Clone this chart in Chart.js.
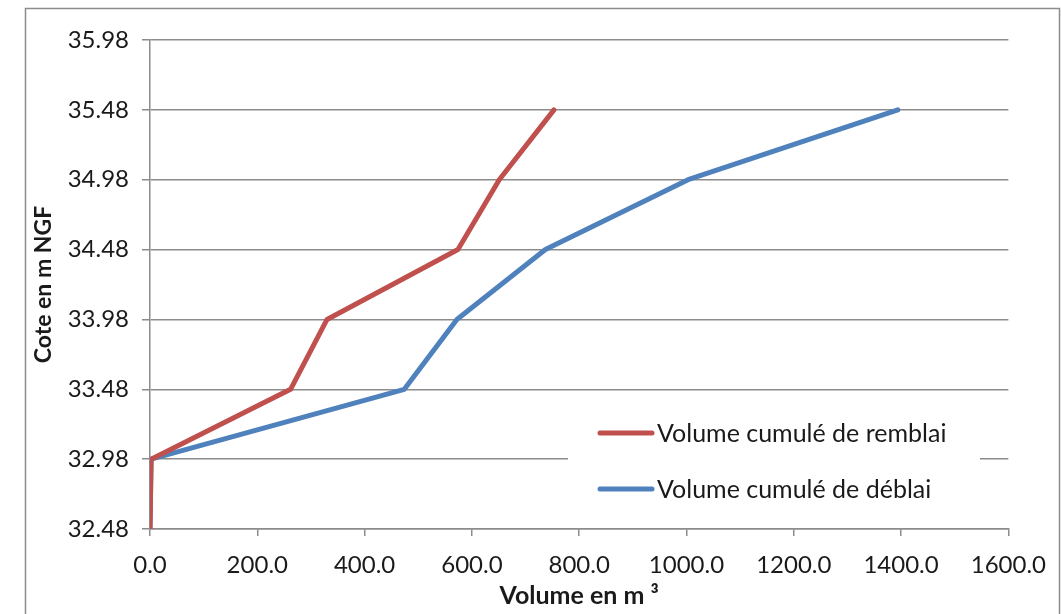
<!DOCTYPE html>
<html>
<head>
<meta charset="utf-8">
<script src="https://cdn.jsdelivr.net/npm/chart.js@4/dist/chart.umd.min.js"></script>
<style>
  html, body { margin: 0; padding: 0; background: #ffffff; }
  #wrap { width: 1061px; height: 614px; position: relative; }
</style>
</head>
<body>
<div id="wrap"><canvas id="c" width="1061" height="614"></canvas></div>
<script>
// Elevation levels (m NGF)
const cotes = [32.48, 32.98, 33.48, 33.98, 34.48, 34.98, 35.48];
// Cumulative fill volume (m³) at each level
const remblai = [0, 2, 262, 330, 574, 651, 753];
// Cumulative cut volume (m³) at each level
const deblai = [0, 2, 474, 572, 737, 1003, 1394];

const seriesNames = ['Volume cumulé de remblai', 'Volume cumulé de déblai'];
const seriesColors = ['#C0504D', '#4F81BD'];

const yTicks = [32.48, 32.98, 33.48, 33.98, 34.48, 34.98, 35.48, 35.98];
const xTicks = [0, 200, 400, 600, 800, 1000, 1200, 1400, 1600];

const FONT = 'Lato, "Open Sans", sans-serif';
const GRID = '#8c8c8c';

const toPoints = vals => vals.map((v, i) => ({ x: v, y: cotes[i] }));

// Outer frame around the chart
const framePlugin = {
  id: 'frame',
  beforeDraw(chart) {
    const ctx = chart.ctx;
    ctx.save();
    ctx.fillStyle = '#ffffff';
    ctx.fillRect(0, 0, chart.width, chart.height);
    ctx.strokeStyle = '#8c8c8c';
    ctx.lineWidth = 1.5;
    ctx.beginPath();
    ctx.moveTo(25.5, chart.height + 2);
    ctx.lineTo(25.5, 8.5);
    ctx.lineTo(1059.5, 8.5);
    ctx.lineTo(1059.5, chart.height + 2);
    ctx.stroke();
    ctx.restore();
  }
};

// Legend box drawn inside the plot area
const insideLegend = {
  id: 'insideLegend',
  afterDatasetsDraw(chart) {
    const ctx = chart.ctx;
    ctx.save();
    ctx.fillStyle = '#ffffff';
    ctx.fillRect(568, 402, 412, 104);
    ctx.font = '25px ' + FONT;
    ctx.textBaseline = 'middle';
    ctx.textAlign = 'left';
    const rows = [433, 489];
    chart.data.datasets.forEach((ds, i) => {
      const y = rows[i];
      ctx.strokeStyle = ds.borderColor;
      ctx.lineWidth = 5;
      ctx.lineCap = 'round';
      ctx.beginPath();
      ctx.moveTo(600, y);
      ctx.lineTo(652, y);
      ctx.stroke();
      ctx.fillStyle = '#1a1a1a';
      ctx.fillText(ds.label, 657, y + 1);
    });
    ctx.restore();
  }
};

new Chart(document.getElementById('c'), {
  type: 'line',
  data: {
    datasets: [
      { label: seriesNames[0], data: toPoints(remblai), borderColor: seriesColors[0] },
      { label: seriesNames[1], data: toPoints(deblai), borderColor: seriesColors[1] }
    ]
  },
  options: {
    responsive: false,
    animation: false,
    devicePixelRatio: 1,
    layout: { padding: { top: 40, right: 47, left: 0, bottom: 0 } },
    elements: {
      line: { borderWidth: 5, tension: 0, borderCapStyle: 'round', borderJoinStyle: 'round', fill: false },
      point: { radius: 0, hoverRadius: 0 }
    },
    plugins: { legend: { display: false }, tooltip: { enabled: false } },
    scales: {
      x: {
        type: 'linear',
        min: 0, max: 1600,
        afterBuildTicks: s => { s.ticks = xTicks.map(v => ({ value: v })); },
        afterFit: s => { s.height = 85; },
        grid: { drawOnChartArea: false, drawTicks: true, tickLength: 7, color: GRID, lineWidth: 1.5 },
        border: { display: true, color: GRID, width: 1.5 },
        ticks: {
          font: { family: FONT, size: 24 }, color: '#1a1a1a', padding: 15, maxRotation: 0,
          callback: v => Number(v).toFixed(1)
        },
        title: {
          display: true, text: 'Volume en m ³',
          font: { family: FONT, size: 25, weight: 'bold' }, color: '#1a1a1a',
          padding: { top: 0, bottom: 3 }
        }
      },
      y: {
        type: 'linear',
        min: 32.48, max: 35.98,
        afterBuildTicks: s => { s.ticks = yTicks.map(v => ({ value: v })); },
        afterFit: s => { s.width = 150; },
        grid: { drawOnChartArea: true, drawTicks: true, tickLength: 8, color: GRID, lineWidth: 1.5 },
        border: { display: true, color: GRID, width: 1.5 },
        ticks: {
          font: { family: FONT, size: 24 }, color: '#1a1a1a', padding: 13,
          callback: v => Number(v).toFixed(2)
        },
        title: {
          display: true, text: 'Cote en m NGF',
          font: { family: FONT, size: 23, weight: 'bold' }, color: '#1a1a1a',
          padding: { top: 30, bottom: 0 }
        }
      }
    }
  },
  plugins: [framePlugin, insideLegend]
});
</script>
</body>
</html>
